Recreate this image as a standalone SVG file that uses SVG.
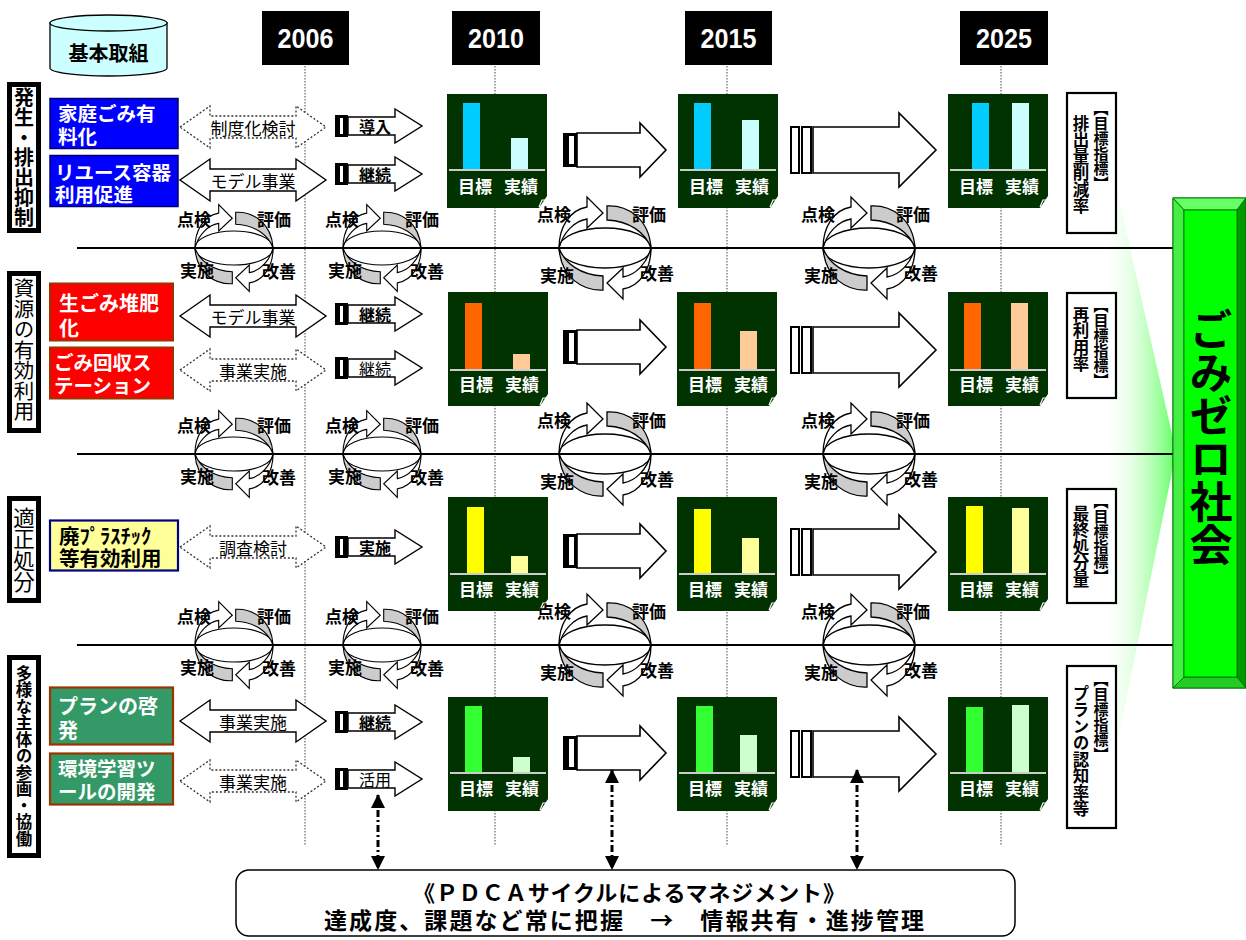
<svg xmlns="http://www.w3.org/2000/svg" xmlns:xlink="http://www.w3.org/1999/xlink" width="1246" height="940" viewBox="0 0 1246 940">
<style>
text{font-family:'Noto Sans CJK JP','Noto Sans',sans-serif;}
.b{font-weight:bold;}
.w{fill:#fff;}
.c{text-anchor:middle;dominant-baseline:central;}
.l{dominant-baseline:central;}
.v{writing-mode:vertical-rl;text-anchor:start;}
.yr{font-family:'Liberation Sans',Arial,sans-serif;font-weight:bold;font-size:27px;fill:#fff;text-anchor:middle;}
.yl{stroke:#444;stroke-width:1;stroke-dasharray:1.5,1.5;fill:none;}
.hl{stroke:#000;stroke-width:2;}
.dot{fill:#fff;stroke:#333;stroke-width:1.3;stroke-dasharray:2,2;}
.sol{fill:#fff;stroke:#000;stroke-width:1.4;}
.cat{fill:#fff;stroke:#000;stroke-width:5;}
.lab{fill:#fff;stroke:#000;stroke-width:2.2;}
.ch{fill:#003300;}
.base{stroke:#ccc;stroke-width:2;}
.cl{font-size:17px;font-weight:bold;}
.cyc{font-size:17px;font-weight:bold;}
.con{stroke:#000;stroke-width:3;stroke-dasharray:7,3,2,3;fill:none;}
</style>
<defs>
<linearGradient id="wedge" x1="1100" y1="0" x2="1176" y2="0" gradientUnits="userSpaceOnUse">
<stop offset="0" stop-color="#ffffff" stop-opacity="0"/>
<stop offset="1" stop-color="#55ff55" stop-opacity="0.95"/>
</linearGradient>
<marker id="ah" viewBox="0 0 14 14" refX="13" refY="7" markerWidth="14" markerHeight="14" markerUnits="userSpaceOnUse" orient="auto-start-reverse">
<path d="M0,0 L14,7 L0,14 Z" fill="#000"/>
</marker>
<path id="dbl" d="M180,0 L210,-21 L210,-11 L296,-11 L296,-21 L326,0 L296,21 L296,11 L210,11 L210,21 Z"/>
<g id="sarr">
<rect x="335" y="-11" width="13" height="22" fill="#000"/>
<rect x="340" y="-8" width="3" height="16" fill="#fff"/>
<path d="M348,-9 H395 V-17 L422,0 L395,17 V9 H348 Z" fill="#fff" stroke="#000" stroke-width="1.4"/>
</g>
<g id="barr1">
<rect x="563" y="-17" width="14" height="34" fill="#000"/>
<rect x="569" y="-14" width="5" height="28" fill="#fff"/>
<path d="M577,-17 H640 V-27 L666,0 L640,27 V17 H577 Z" fill="#fff" stroke="#000" stroke-width="1.6"/>
</g>
<g id="barr2">
<rect x="791" y="-23" width="8" height="46" fill="#fff" stroke="#000" stroke-width="2"/>
<rect x="802" y="-23" width="9" height="46" fill="#fff" stroke="#000" stroke-width="2"/>
<path d="M813,-23 H899 V-37 L936,0 L899,37 V23 H813 Z" fill="#fff" stroke="#000" stroke-width="1.6"/>
</g>
<g id="cycShapes" stroke="#000" stroke-width="1.3">
<ellipse cx="0" cy="0" rx="46" ry="20" fill="none"/>
<path d="M2,-42 C22,-43 44,-30 46,0 C40,-16 24,-27 2,-28 Z" fill="#cccccc"/>
<path d="M-2,42 C-22,43 -44,30 -46,0 C-40,16 -24,27 -2,28 Z" fill="#cccccc"/>
<path d="M-46,0 C-46,-20 -36,-38 -18,-41 L-18,-51 L-2,-35 L-18,-20 L-18,-29 C-31,-27 -42,-15 -46,0 Z" fill="#fff"/>
<path d="M46,0 C46,20 36,38 18,41 L18,51 L2,35 L18,20 L18,29 C31,27 42,15 46,0 Z" fill="#fff"/>
</g>
<g id="cycL">
<use xlink:href="#cycShapes"/>
<text class="cyc l" x="-68" y="-35">点検</text>
<text class="cyc l" x="27" y="-35">評価</text>
<text class="cyc l" x="-65" y="26">実施</text>
<text class="cyc l" x="35" y="24">改善</text>
</g>
<g id="cycS">
<use xlink:href="#cycShapes" transform="scale(0.85)"/>
<text class="cyc l" x="-57" y="-30">点検</text>
<text class="cyc l" x="23" y="-30">評価</text>
<text class="cyc l" x="-54" y="21">実施</text>
<text class="cyc l" x="28" y="22">改善</text>
</g>
</defs>

<rect width="1246" height="940" fill="#fff"/>

<!-- background wedge -->
<polygon points="1108,150 1176,452 1108,790" fill="url(#wedge)"/>

<!-- year lines -->
<g id="yearlines">
<line class="yl" x1="305" y1="66" x2="305" y2="845"/>
<line class="yl" x1="495" y1="66" x2="495" y2="845"/>
<line class="yl" x1="727" y1="66" x2="727" y2="845"/>
<line class="yl" x1="1001" y1="66" x2="1001" y2="845"/>
</g>

<!-- horizontal separators -->
<g id="separators">
<line class="hl" x1="77" y1="248" x2="1180" y2="248"/>
<line class="hl" x1="77" y1="454" x2="1180" y2="454"/>
<line class="hl" x1="77" y1="645" x2="1180" y2="645"/>
</g>

<!-- year boxes -->
<g id="y2006"><rect x="262" y="11" width="87" height="54" fill="#000"/><text class="yr" x="305.5" y="48" textLength="56" lengthAdjust="spacingAndGlyphs">2006</text></g>
<g id="y2010"><rect x="452" y="11" width="88" height="54" fill="#000"/><text class="yr" x="496" y="48" textLength="56" lengthAdjust="spacingAndGlyphs">2010</text></g>
<g id="y2015"><rect x="685" y="11" width="87" height="54" fill="#000"/><text class="yr" x="728.5" y="48" textLength="56" lengthAdjust="spacingAndGlyphs">2015</text></g>
<g id="y2025"><rect x="960" y="11" width="88" height="54" fill="#000"/><text class="yr" x="1004" y="48" textLength="56" lengthAdjust="spacingAndGlyphs">2025</text></g>

<!-- cylinder -->
<g id="kihon">
<path d="M50,23 V68 A58.5,8 0 0 0 167,68 V23 Z" fill="#ccffff" stroke="#000" stroke-width="1.3"/>
<ellipse cx="108.5" cy="23" rx="58.5" ry="8" fill="#ccffff" stroke="#000" stroke-width="1.3"/>
<text class="c b" x="108.5" y="52" font-size="20">基本取組</text>
</g>

<!-- category boxes -->
<g id="cat1"><rect class="cat" x="9.5" y="84.5" width="29" height="146"/><text class="v b" x="24" y="87" font-size="20">発生・排出抑制</text></g>
<g id="cat2"><rect class="cat" x="9.5" y="273.5" width="29" height="157"/><text class="v" x="24" y="278" font-size="20.5">資源の有効利用</text></g>
<g id="cat3"><rect class="cat" x="9.5" y="498.5" width="29" height="102"/><text class="v" x="24" y="507" font-size="21.5">適正処分</text></g>
<g id="cat4"><rect class="cat" x="9.5" y="657.5" width="29" height="198"/><text class="v b" x="24" y="665" font-size="16.5">多様な主体の参画・協働</text></g>

<!-- item boxes -->
<g id="item1"><rect x="50" y="98.5" width="128" height="50" fill="#0000ff" stroke="#000066" stroke-width="1.5"/><text class="l b w" font-size="19.5"><tspan x="58" y="112">家庭ごみ有</tspan><tspan x="58" y="135">料化</tspan></text></g>
<g id="item2"><rect x="50" y="155.5" width="128" height="51" fill="#0000ff" stroke="#000066" stroke-width="1.5"/><text class="l b w" font-size="19.5"><tspan x="55" y="171">リユース容器</tspan><tspan x="55" y="193">利用促進</tspan></text></g>
<g id="item3"><rect x="50" y="283.5" width="123" height="57" fill="#ff0000" stroke="#993300" stroke-width="2"/><text class="l b w" font-size="20"><tspan x="59" y="302">生ごみ堆肥</tspan><tspan x="59" y="327">化</tspan></text></g>
<g id="item4"><rect x="50" y="347.5" width="123" height="51" fill="#ff0000" stroke="#993300" stroke-width="2"/><text class="l b w" font-size="19.5"><tspan x="54" y="361">ごみ回収ス</tspan><tspan x="54" y="384">テーション</tspan></text></g>
<g id="item5"><rect x="50" y="520.5" width="128" height="50" fill="#ffff99" stroke="#000080" stroke-width="2.2"/><text class="l b" font-size="20.5"><tspan x="59" y="535">廃ﾌﾟﾗｽﾁｯｸ</tspan><tspan x="59" y="557">等有効利用</tspan></text></g>
<g id="item6"><rect x="50" y="687.5" width="123" height="57" fill="#339966" stroke="#993300" stroke-width="2.2"/><text class="l b w" font-size="20"><tspan x="58" y="705">プランの啓</tspan><tspan x="58" y="729">発</tspan></text></g>
<g id="item7"><rect x="50" y="753.5" width="123" height="51" fill="#339966" stroke="#993300" stroke-width="2.2"/><text class="l b w" font-size="19.5"><tspan x="58" y="767">環境学習ツ</tspan><tspan x="58" y="790">ールの開発</tspan></text></g>

<!-- double arrows (activities until 2006) -->
<g id="act1"><use xlink:href="#dbl" class="dot" transform="translate(0,127)"/><text class="c" x="253" y="127" font-size="17">制度化検討</text></g>
<g id="act2"><use xlink:href="#dbl" class="sol" transform="translate(0,180)"/><text class="c" x="253" y="180" font-size="17">モデル事業</text></g>
<g id="act3"><use xlink:href="#dbl" class="sol" transform="translate(0,316)"/><text class="c" x="253" y="316" font-size="17">モデル事業</text></g>
<g id="act4"><use xlink:href="#dbl" class="dot" transform="translate(0,370)"/><text class="c" x="253" y="370" font-size="17">事業実施</text></g>
<g id="act5"><use xlink:href="#dbl" class="dot" transform="translate(0,547)"/><text class="c" x="253" y="547" font-size="17">調査検討</text></g>
<g id="act6"><use xlink:href="#dbl" class="sol" transform="translate(0,721)"/><text class="c" x="253" y="721" font-size="17">事業実施</text></g>
<g id="act7"><use xlink:href="#dbl" class="dot" transform="translate(0,781)"/><text class="c" x="253" y="781" font-size="17">事業実施</text></g>

<!-- small arrows after 2006 -->
<g id="next1"><use xlink:href="#sarr" transform="translate(0,126)"/><text class="c b" x="375" y="126" font-size="16">導入</text></g>
<g id="next2"><use xlink:href="#sarr" transform="translate(0,174)"/><text class="c b" x="375" y="174" font-size="16">継続</text></g>
<g id="next3"><use xlink:href="#sarr" transform="translate(0,314)"/><text class="c b" x="375" y="314" font-size="16">継続</text></g>
<g id="next4"><use xlink:href="#sarr" transform="translate(0,368)"/><text class="c" x="375" y="368" font-size="16">継続</text></g>
<g id="next5"><use xlink:href="#sarr" transform="translate(0,547)"/><text class="c b" x="375" y="547" font-size="16">実施</text></g>
<g id="next6"><use xlink:href="#sarr" transform="translate(0,722)"/><text class="c b" x="375" y="722" font-size="16">継続</text></g>
<g id="next7"><use xlink:href="#sarr" transform="translate(0,779)"/><text class="c" x="375" y="779" font-size="16">活用</text></g>

<!-- big arrows between charts -->
<g id="progress">
<use xlink:href="#barr1" transform="translate(0,150)"/>
<use xlink:href="#barr2" transform="translate(0,150)"/>
<use xlink:href="#barr1" transform="translate(0,347)"/>
<use xlink:href="#barr2" transform="translate(0,350)"/>
<use xlink:href="#barr1" transform="translate(0,551)"/>
<use xlink:href="#barr2" transform="translate(0,552)"/>
<use xlink:href="#barr1" transform="translate(0,753)"/>
<use xlink:href="#barr2" transform="translate(0,754)"/>
</g>

<!-- charts row 1 (top 94) -->
<g id="chart1a"><path class="ch" d="M447,94 H547 V196 L539,208 H447 Z"/><rect x="463" y="103" width="17" height="67" fill="#00ccff"/><rect x="511" y="138" width="17" height="32" fill="#ccffff"/><line class="base" x1="449" y1="170" x2="545" y2="170"/><text class="c cl w" x="475" y="185">目標</text><text class="c cl w" x="521" y="185">実績</text><path d="M539,207 L542,200 H547" fill="none" stroke="#fff" stroke-width="1.2"/></g>
<g id="chart1b"><path class="ch" d="M678,94 H778 V196 L770,208 H678 Z"/><rect x="694" y="103" width="17" height="67" fill="#00ccff"/><rect x="742" y="120" width="17" height="50" fill="#ccffff"/><line class="base" x1="680" y1="170" x2="776" y2="170"/><text class="c cl w" x="706" y="185">目標</text><text class="c cl w" x="752" y="185">実績</text><path d="M770,207 L773,200 H778" fill="none" stroke="#fff" stroke-width="1.2"/></g>
<g id="chart1c"><path class="ch" d="M948,94 H1048 V196 L1040,208 H948 Z"/><rect x="972" y="103" width="17" height="67" fill="#00ccff"/><rect x="1012" y="103" width="17" height="67" fill="#ccffff"/><line class="base" x1="950" y1="170" x2="1046" y2="170"/><text class="c cl w" x="976" y="185">目標</text><text class="c cl w" x="1022" y="185">実績</text><path d="M1040,207 L1043,200 H1048" fill="none" stroke="#fff" stroke-width="1.2"/></g>

<!-- charts row 2 (top 292) -->
<g id="chart2a"><path class="ch" d="M448,292 H548 V394 L540,406 H448 Z"/><rect x="465" y="303" width="17" height="67" fill="#ff6600"/><rect x="513" y="354" width="17" height="16" fill="#ffcc99"/><line class="base" x1="450" y1="370" x2="546" y2="370"/><text class="c cl w" x="476" y="383">目標</text><text class="c cl w" x="522" y="383">実績</text><path d="M540,405 L543,398 H548" fill="none" stroke="#fff" stroke-width="1.2"/></g>
<g id="chart2b"><path class="ch" d="M677,292 H777 V394 L769,406 H677 Z"/><rect x="694" y="303" width="17" height="67" fill="#ff6600"/><rect x="740" y="331" width="17" height="39" fill="#ffcc99"/><line class="base" x1="679" y1="370" x2="775" y2="370"/><text class="c cl w" x="705" y="383">目標</text><text class="c cl w" x="751" y="383">実績</text><path d="M769,405 L772,398 H777" fill="none" stroke="#fff" stroke-width="1.2"/></g>
<g id="chart2c"><path class="ch" d="M948,292 H1048 V394 L1040,406 H948 Z"/><rect x="964" y="303" width="17" height="67" fill="#ff6600"/><rect x="1011" y="303" width="17" height="67" fill="#ffcc99"/><line class="base" x1="950" y1="370" x2="1046" y2="370"/><text class="c cl w" x="976" y="383">目標</text><text class="c cl w" x="1022" y="383">実績</text><path d="M1040,405 L1043,398 H1048" fill="none" stroke="#fff" stroke-width="1.2"/></g>

<!-- charts row 3 (top 497) -->
<g id="chart3a"><path class="ch" d="M448,497 H548 V599 L540,611 H448 Z"/><rect x="467" y="507" width="17" height="67" fill="#ffff00"/><rect x="511" y="556" width="17" height="18" fill="#ffff99"/><line class="base" x1="450" y1="574" x2="546" y2="574"/><text class="c cl w" x="476" y="588">目標</text><text class="c cl w" x="522" y="588">実績</text><path d="M540,610 L543,603 H548" fill="none" stroke="#fff" stroke-width="1.2"/></g>
<g id="chart3b"><path class="ch" d="M677,497 H777 V599 L769,611 H677 Z"/><rect x="694" y="509" width="17" height="65" fill="#ffff00"/><rect x="742" y="538" width="17" height="36" fill="#ffff99"/><line class="base" x1="679" y1="574" x2="775" y2="574"/><text class="c cl w" x="705" y="588">目標</text><text class="c cl w" x="751" y="588">実績</text><path d="M769,610 L772,603 H777" fill="none" stroke="#fff" stroke-width="1.2"/></g>
<g id="chart3c"><path class="ch" d="M948,497 H1048 V599 L1040,611 H948 Z"/><rect x="966" y="506" width="17" height="68" fill="#ffff00"/><rect x="1012" y="508" width="17" height="66" fill="#ffff99"/><line class="base" x1="950" y1="574" x2="1046" y2="574"/><text class="c cl w" x="976" y="588">目標</text><text class="c cl w" x="1022" y="588">実績</text><path d="M1040,610 L1043,603 H1048" fill="none" stroke="#fff" stroke-width="1.2"/></g>

<!-- charts row 4 (top 697) -->
<g id="chart4a"><path class="ch" d="M448,697 H548 V799 L540,811 H448 Z"/><rect x="465" y="706" width="17" height="67" fill="#33ff33"/><rect x="513" y="757" width="17" height="16" fill="#ccffcc"/><line class="base" x1="450" y1="773" x2="546" y2="773"/><text class="c cl w" x="476" y="787">目標</text><text class="c cl w" x="522" y="787">実績</text><path d="M540,810 L543,803 H548" fill="none" stroke="#fff" stroke-width="1.2"/></g>
<g id="chart4b"><path class="ch" d="M677,697 H777 V799 L769,811 H677 Z"/><rect x="696" y="706" width="17" height="67" fill="#33ff33"/><rect x="740" y="735" width="17" height="38" fill="#ccffcc"/><line class="base" x1="679" y1="773" x2="775" y2="773"/><text class="c cl w" x="705" y="787">目標</text><text class="c cl w" x="751" y="787">実績</text><path d="M769,810 L772,803 H777" fill="none" stroke="#fff" stroke-width="1.2"/></g>
<g id="chart4c"><path class="ch" d="M948,697 H1048 V799 L1040,811 H948 Z"/><rect x="966" y="707" width="17" height="66" fill="#33ff33"/><rect x="1012" y="705" width="17" height="68" fill="#ccffcc"/><line class="base" x1="950" y1="773" x2="1046" y2="773"/><text class="c cl w" x="976" y="787">目標</text><text class="c cl w" x="1022" y="787">実績</text><path d="M1040,810 L1043,803 H1048" fill="none" stroke="#fff" stroke-width="1.2"/></g>

<!-- PDCA cycles -->
<g id="pdca1"><use xlink:href="#cycS" transform="translate(234,248)"/><use xlink:href="#cycS" transform="translate(382,248)"/><use xlink:href="#cycL" transform="translate(605,248)"/><use xlink:href="#cycL" transform="translate(869,248)"/></g>
<g id="pdca2"><use xlink:href="#cycS" transform="translate(234,454)"/><use xlink:href="#cycS" transform="translate(382,454)"/><use xlink:href="#cycL" transform="translate(605,454)"/><use xlink:href="#cycL" transform="translate(869,454)"/></g>
<g id="pdca3"><use xlink:href="#cycS" transform="translate(234,645)"/><use xlink:href="#cycS" transform="translate(382,645)"/><use xlink:href="#cycL" transform="translate(605,645)"/><use xlink:href="#cycL" transform="translate(869,645)"/></g>

<!-- indicator labels -->
<g id="ind1"><rect class="lab" x="1067" y="93" width="49" height="140"/><text class="v b" x="1101" y="101" font-size="15">【目標指標】</text><text class="v b" x="1081" y="115" font-size="16.5">排出量削減率</text></g>
<g id="ind2"><rect class="lab" x="1067" y="293" width="49" height="105"/><text class="v b" x="1101" y="298" font-size="15">【目標指標】</text><text class="v b" x="1081" y="306" font-size="16.5">再利用率</text></g>
<g id="ind3"><rect class="lab" x="1067" y="489" width="49" height="114"/><text class="v b" x="1101" y="494" font-size="15">【目標指標】</text><text class="v b" x="1081" y="505" font-size="16.5">最終処分量</text></g>
<g id="ind4"><rect class="lab" x="1067" y="666" width="49" height="162"/><text class="v b" x="1101" y="672" font-size="15">【目標指標】</text><text class="v b" x="1081" y="685" font-size="16.5">プランの認知率等</text></g>

<!-- goal box -->
<g id="goal">
<rect x="1173" y="198" width="73" height="490" fill="#33ff33" stroke="#006600" stroke-width="1"/>
<polygon points="1173,198 1246,198 1237,210 1184,210" fill="#66ff66" stroke="#006600" stroke-width="0.8"/>
<polygon points="1173,198 1184,210 1184,677 1173,688" fill="#44ee44" stroke="#006600" stroke-width="0.8"/>
<polygon points="1246,198 1237,210 1237,677 1246,688" fill="#009900" stroke="#006600" stroke-width="0.8"/>
<polygon points="1173,688 1184,677 1237,677 1246,688" fill="#22cc22" stroke="#006600" stroke-width="0.8"/>
<rect x="1184" y="210" width="53" height="467" fill="#00ff00" stroke="#006600" stroke-width="0.8"/>
<text class="v b" x="1211" y="308" font-size="43">ごみゼロ社会</text>
</g>

<!-- connectors -->
<g id="connectors">
<line class="con" x1="378" y1="795" x2="378" y2="869" marker-start="url(#ah)" marker-end="url(#ah)"/>
<line class="con" x1="612" y1="770" x2="612" y2="869" marker-start="url(#ah)" marker-end="url(#ah)"/>
<line class="con" x1="857" y1="770" x2="857" y2="869" marker-start="url(#ah)" marker-end="url(#ah)"/>
</g>

<!-- management box -->
<g id="management">
<rect x="236" y="870" width="779" height="66" rx="13" ry="13" fill="#fff" stroke="#000" stroke-width="1.5"/>
<text class="c b" font-size="22"><tspan x="629" y="891" textLength="432" lengthAdjust="spacing">《ＰＤＣＡサイクルによるマネジメント》</tspan><tspan x="624" y="919" font-size="23" textLength="600" lengthAdjust="spacing">達成度、課題など常に把握　→　情報共有・進捗管理</tspan></text>
</g>
</svg>
